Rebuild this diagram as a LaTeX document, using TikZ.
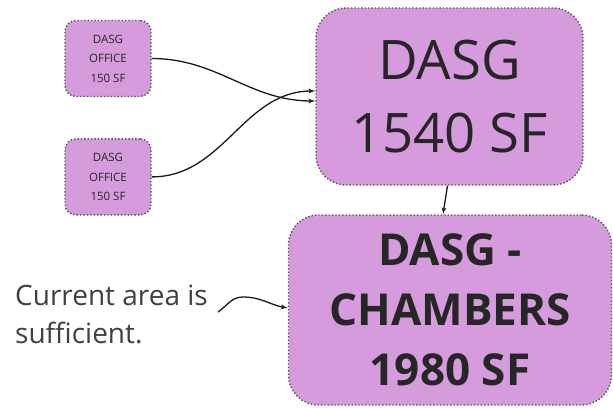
\documentclass[tikz,border=0pt]{standalone}
\usepackage{fontspec}
\setmainfont{Open Sans}
\usetikzlibrary{arrows,positioning}
\definecolor{lilac}{RGB}{213,155,220}
\definecolor{rim}{RGB}{85,85,85}
\tikzstyle{block} = [rectangle, draw=rim, dotted, line width=1.4pt, fill=lilac,
      text=black!85, align=center, inner sep=0pt]
\tikzstyle{small} = [block, minimum width=86pt, minimum height=76pt, rounded corners=11pt,
      font=\fontsize{11.5}{19.5}\selectfont]
\tikzstyle{line} = [draw, -latex', line width=1.3pt, black!90]

\begin{document}
\begin{tikzpicture}[x=1pt, y=-1pt]
	  \useasboundingbox (0,0) rectangle (613,407);
	  % Nodes
	  \node [small] (office1) at (108,58.5) {DASG\\OFFICE\\150 SF};
	  \node [small, below=41pt of office1] (office2) {DASG\\OFFICE\\150 SF};
	  \node [block, minimum width=267pt, minimum height=177pt, rounded corners=30pt,
	         font=\fontsize{54.5}{73}\selectfont] (dasg) at (449.5,96.5) {DASG\\1540 SF};
	  \node [block, minimum width=323pt, minimum height=190pt, rounded corners=30pt,
	         font=\fontsize{44}{60}\selectfont\bfseries] (chambers) at (450,310) {DASG -\\CHAMBERS\\1980 SF};
	  \node [anchor=west, align=left, inner sep=0pt, text=black!75,
	         font=\fontsize{28}{38}\selectfont] (note) at (15,314) {Current area is\\sufficient.};
	  \coordinate (wave) at (218,312);
	  \coordinate (crest) at (243,297);
	  % Arrows
	  \path [line] (office1.east) to[out=0,in=180] ([yshift=-4.5pt]dasg.west);
	  \path [line] (office2.east) to[out=0,in=180] ([yshift=5.5pt]dasg.west);
	  \path [line] ([xshift=-2pt]dasg.south) -- ([xshift=-7pt]chambers.north);
	  \path [line] (wave) to[out=35,in=180] (crest) to[out=0,in=170] ([yshift=2pt]chambers.west);
\end{tikzpicture}
\end{document}
